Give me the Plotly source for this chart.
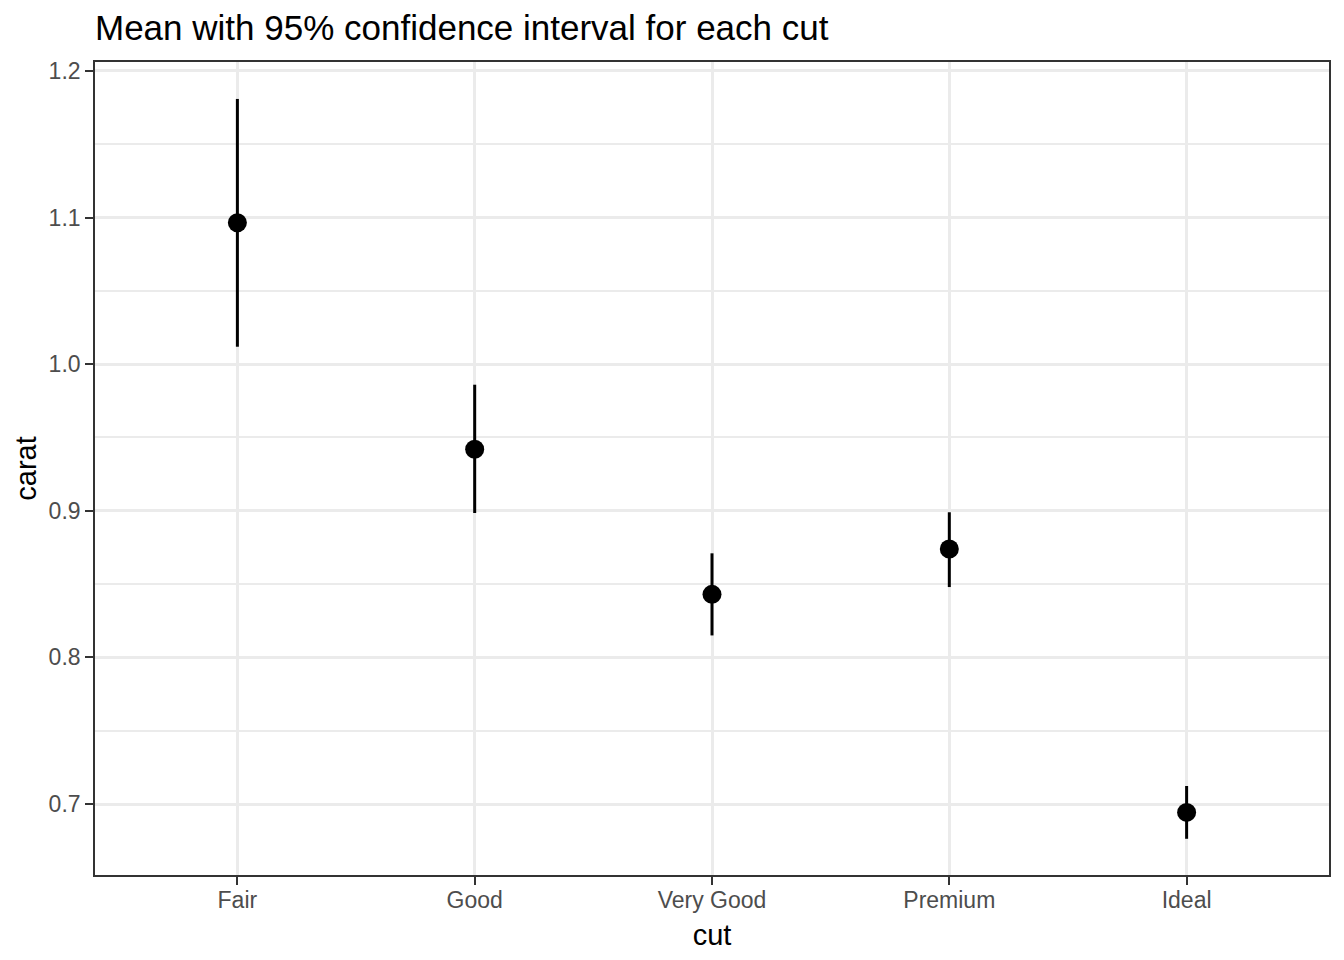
import plotly.graph_objects as go

cuts = ["Fair", "Good", "Very Good", "Premium", "Ideal"]
means = [1.0965, 0.942, 0.843, 0.874, 0.6943]
lower = [1.0119, 0.8985, 0.815, 0.848, 0.6763]
upper = [1.1809, 0.986, 0.871, 0.899, 0.7123]

err_plus = [u - m for u, m in zip(upper, means)]
err_minus = [m - l for m, l in zip(means, lower)]

FONT = "Liberation Sans, Arial, Helvetica, sans-serif"

W, H = 1336, 952

fig = go.Figure()
fig.add_trace(go.Scatter(
    x=cuts, y=means, mode="markers",
    marker=dict(color="black", size=19),
    error_y=dict(type="data", symmetric=False, array=err_plus, arrayminus=err_minus,
                 width=0, thickness=3, color="black"),
    showlegend=False,
))

fig.update_layout(
    width=W, height=H,
    margin=dict(l=87, r=15, t=54, b=85),
    paper_bgcolor="white", plot_bgcolor="white",
    font=dict(family=FONT, color="black"),
    title=dict(text="Mean with 95% confidence interval for each cut",
               x=87/W, xanchor="left", y=1-20/H, yanchor="middle",
               font=dict(size=35, color="black", family=FONT)),
)
fig.update_xaxes(
    type="category", categoryorder="array", categoryarray=cuts,
    range=[-0.6, 4.6],
    showgrid=True, gridcolor="#EBEBEB", gridwidth=3,
    showline=True, mirror=True, linecolor="#333333", linewidth=1.6,
    ticks="outside", ticklen=8, tickwidth=2.2, tickcolor="#333333",
    ticklabelstandoff=-4,
    tickfont=dict(size=23, color="#4D4D4D", family=FONT),
    title=dict(text="cut", font=dict(size=29, color="black", family=FONT), standoff=12),
    zeroline=False,
)
fig.update_yaxes(
    range=[0.6516, 1.2061],
    tickvals=[0.7, 0.8, 0.9, 1.0, 1.1, 1.2],
    ticktext=["0.7", "0.8", "0.9", "1.0", "1.1", "1.2"],
    showgrid=True, gridcolor="#EBEBEB", gridwidth=3,
    minor=dict(tickvals=[0.75, 0.85, 0.95, 1.05, 1.15], showgrid=True,
               gridcolor="#EBEBEB", gridwidth=1.5, ticks=""),
    showline=True, mirror=True, linecolor="#333333", linewidth=1.6,
    ticks="outside", ticklen=8, tickwidth=2.2, tickcolor="#333333",
    tickfont=dict(size=23, color="#4D4D4D", family=FONT),
    title=dict(text="carat", font=dict(size=29, color="black", family=FONT), standoff=3),
    zeroline=False,
)

fig.write_html("out.html")
